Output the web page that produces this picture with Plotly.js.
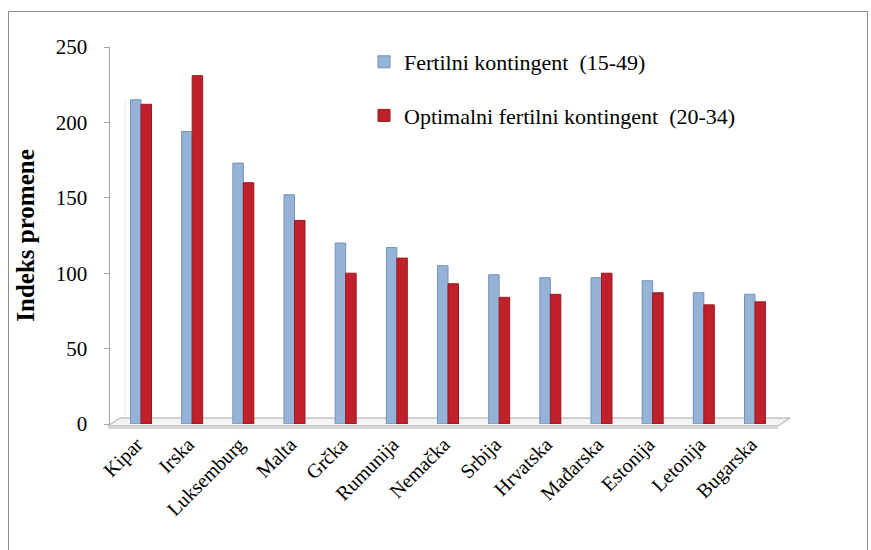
<!DOCTYPE html>
<html>
<head>
<meta charset="utf-8">
<script src="https://cdn.plot.ly/plotly-3.0.1.min.js"></script>
<style>
  html, body { margin: 0; padding: 0; background: #fff; }
  #chart { width: 871px; height: 550px; }
</style>
</head>
<body>
<div id="chart"></div>
<script>
// Categories (countries)
var categories = ["Kipar", "Irska", "Luksemburg", "Malta", "Grčka", "Rumunija", "Nemačka",
                  "Srbija", "Hrvatska", "Mađarska", "Estonija", "Letonija", "Bugarska"];
// Series values (Indeks promene)
var fertilni = [215, 194, 173, 152, 120, 117, 105, 99, 97, 97, 95, 87, 86];
var optimalni = [212, 231, 160, 135, 100, 110, 93, 84, 86, 100, 87, 79, 81];
// Series names
var seriesNames = ["Fertilni kontingent  (15-49)", "Optimalni fertilni kontingent  (20-34)"];
// Y tick values
var yTicks = [0, 50, 100, 150, 200, 250];

var FONT = "Liberation Serif, Times New Roman, serif";

var traces = [
  {
    type: "bar", x: categories, y: fertilni, name: seriesNames[0], legendgroup: "a",
    marker: { color: "#95B3D7", line: { color: "#7391BA", width: 1 } }
  },
  {
    type: "bar", x: categories, y: optimalni, name: seriesNames[1], legendgroup: "b",
    marker: { color: "#C0202A", line: { color: "#9C1A20", width: 1 } }
  }
];

// pixel helpers for decorative shapes (plot area: x 110..786, y 47..424)
function px(x) { return (x - 110) / 676; }
function py(y) { return (424 - y) / 377; }

var layout = {
  width: 871, height: 550,
  margin: { l: 110, r: 85, t: 47, b: 126 },
  paper_bgcolor: "#ffffff", plot_bgcolor: "rgba(0,0,0,0)",
  font: { family: FONT, size: 19, color: "#000" },
  barmode: "group", bargap: 0.59, bargroupgap: 0,
  showlegend: true,
  legend: {
    x: px(364), y: py(41), xanchor: "left", yanchor: "top",
    font: { family: FONT, size: 22 }, tracegroupgap: 22,
    bgcolor: "rgba(0,0,0,0)", itemwidth: 30
  },
  xaxis: {
    type: "category", range: [-0.606, 12.606],
    tickangle: -45, showgrid: false, showline: false, zeroline: false,
    ticks: "", tickfont: { family: FONT, size: 20 },
    ticklabelstandoff: 4, ticklabelshift: -4
  },
  yaxis: {
    range: [0, 250], tickvals: yTicks, ticktext: yTicks.map(String),
    showgrid: false, zeroline: false, showline: true, linecolor: "#a6a6a6", linewidth: 1.5,
    ticks: "outside", ticklen: 5, tickcolor: "#a6a6a6", tickwidth: 1,
    ticklabelstandoff: 12,
    tickfont: { family: FONT, size: 21 },
    title: { text: "<b>Indeks promene</b>", font: { family: FONT, size: 25 }, standoff: 14 }
  },
  shapes: [
    // outer frame
    { type: "rect", xref: "paper", yref: "paper", x0: px(8.5), x1: px(867.5), y0: py(560), y1: py(11.5),
      line: { color: "#8c8c8c", width: 1 }, fillcolor: "rgba(0,0,0,0)", layer: "below" },
    // back wall left edge
    { type: "line", xref: "paper", yref: "paper", x0: px(125), x1: px(125), y0: py(419), y1: py(98),
      line: { color: "#e6e6e6", width: 1 }, layer: "below" },
    // 3D floor
    { type: "path", xref: "paper", yref: "paper",
      path: "M " + px(108) + "," + py(426) + " L " + px(778) + "," + py(426) + " L " + px(790) + "," + py(418) +
            " L " + px(120) + "," + py(418) + " Z",
      line: { color: "#a6a6a6", width: 1 }, fillcolor: "#f4f4f4", layer: "below" },
    { type: "line", xref: "paper", yref: "paper", x0: px(108), x1: px(778), y0: py(428), y1: py(428),
      line: { color: "#c8c8c8", width: 1.5 }, layer: "below" }
  ]
};

Plotly.newPlot("chart", traces, layout, { staticPlot: true, displayModeBar: false });
</script>
</body>
</html>
